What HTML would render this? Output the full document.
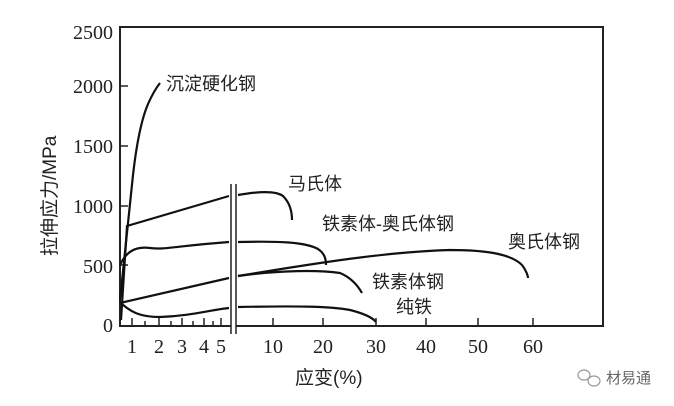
<!DOCTYPE html>
<html><head><meta charset="utf-8"><style>
html,body{margin:0;padding:0;background:#fff;}
svg{display:block;}
.t{font-family:"Liberation Serif",serif;font-size:20px;fill:#222;}
.c{font-family:"Liberation Sans","Noto Sans CJK SC",sans-serif;font-size:18px;fill:#222;}
</style></head><body>
<svg width="674" height="406" viewBox="0 0 674 406" xmlns="http://www.w3.org/2000/svg">
<rect x="120" y="27" width="483" height="299" fill="none" stroke="#222" stroke-width="2"/>
<g stroke="#222" stroke-width="1.5">
<line x1="120" y1="265" x2="128" y2="265"/><line x1="120" y1="206" x2="128" y2="206"/>
<line x1="120" y1="146" x2="128" y2="146"/><line x1="120" y1="86" x2="128" y2="86"/>
<line x1="132" y1="326" x2="132" y2="318"/><line x1="145" y1="326" x2="145" y2="321"/>
<line x1="159" y1="326" x2="159" y2="318"/><line x1="171" y1="326" x2="171" y2="321"/>
<line x1="182" y1="326" x2="182" y2="318"/><line x1="193" y1="326" x2="193" y2="321"/>
<line x1="204" y1="326" x2="204" y2="318"/><line x1="213" y1="326" x2="213" y2="321"/>
<line x1="221" y1="326" x2="221" y2="318"/>
<line x1="273" y1="326" x2="273" y2="318"/><line x1="323" y1="326" x2="323" y2="318"/>
<line x1="376" y1="326" x2="376" y2="318"/><line x1="426" y1="326" x2="426" y2="318"/>
<line x1="478" y1="326" x2="478" y2="318"/><line x1="533" y1="326" x2="533" y2="318"/>
</g>
<rect x="231" y="184" width="5" height="150" fill="#fff"/>
<line x1="231" y1="184" x2="231" y2="334" stroke="#222" stroke-width="1.5"/>
<line x1="236" y1="184" x2="236" y2="334" stroke="#222" stroke-width="1.5"/>
<g fill="none" stroke="#111" stroke-width="2.2">
<path d="M120,300 C124,260 128,220 133,175 C137,140 142,118 148,104 C152,95 156,88 160,83"/>
<path d="M121,320 L127,226 L229,196"/>
<path d="M238,195 C255,192 275,190 283,196 C289,202 292,210 292,220"/>
<path d="M120,265 C126,252 135,246 150,248 C165,250 175,246 229,242"/>
<path d="M238,242 C280,241 305,242 318,249 C324,253 326,258 326,265"/>
<path d="M120,303 L229,278"/>
<path d="M238,276 C300,266 380,252 450,250 C490,250 512,255 522,265 C526,270 528,276 528,278"/>
<path d="M238,276 C280,270 320,270 340,273 C352,278 358,286 362,293"/>
<path d="M120,302 C130,312 140,317 160,317 C190,316 210,310 229,308"/>
<path d="M238,307 C290,306 330,306 350,310 C362,313 372,317 376,322"/>
</g>
<g class="t" text-anchor="end">
<text x="113" y="39">2500</text><text x="113" y="93">2000</text>
<text x="113" y="153">1500</text><text x="113" y="213">1000</text>
<text x="113" y="273">500</text><text x="113" y="332">0</text>
</g>
<g class="t" text-anchor="middle">
<text x="132" y="353">1</text><text x="159" y="353">2</text><text x="182" y="353">3</text>
<text x="204" y="353">4</text><text x="221" y="353">5</text>
<text x="273" y="353">10</text><text x="323" y="353">20</text><text x="376" y="353">30</text>
<text x="426" y="353">40</text><text x="478" y="353">50</text><text x="533" y="353">60</text>
</g>
<g class="c">
<text x="166" y="90">沉淀硬化钢</text>
<text x="288" y="190">马氏体</text>
<text x="322" y="230">铁素体-奥氏体钢</text>
<text x="508" y="248">奥氏体钢</text>
<text x="372" y="288">铁素体钢</text>
<text x="396" y="313">纯铁</text>
<text x="295" y="384" style="font-size:19px">应变(%)</text>
<text transform="translate(56,256) rotate(-90)" style="font-size:19px">拉伸应力/MPa</text>
<text x="606" y="383" style="font-size:15px;fill:#666">材易通</text>
</g>
<g fill="none" stroke="#999" stroke-width="1.2">
<ellipse cx="584" cy="375" rx="6" ry="5"/><ellipse cx="594" cy="381" rx="6" ry="5"/>
</g>
</svg>
</body></html>
